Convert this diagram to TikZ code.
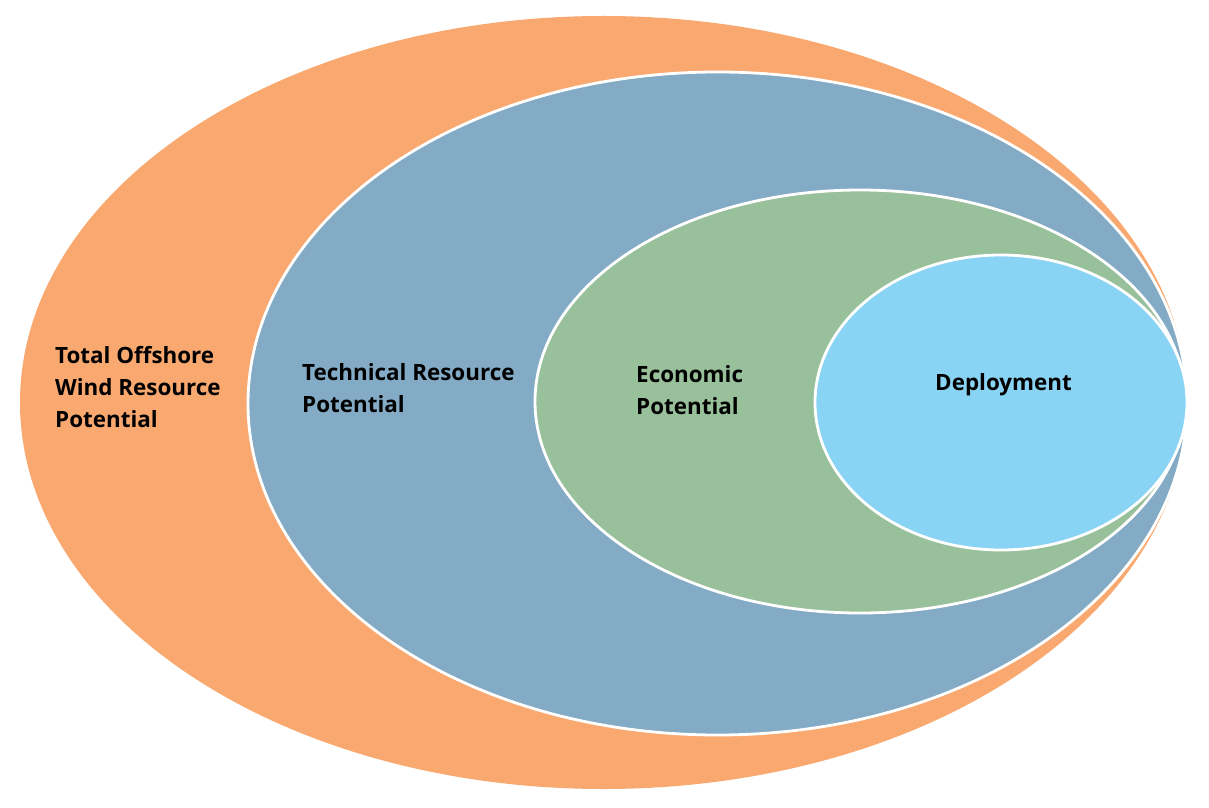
\documentclass[tikz,border=0pt]{standalone}
\usepackage{fontspec}
\setmainfont{Open Sans}
\usetikzlibrary{shapes.geometric}
\definecolor{cOrange}{HTML}{F9A870}
\definecolor{cBlue}{HTML}{84ABC5}
\definecolor{cGreen}{HTML}{98C09A}
\definecolor{cLight}{HTML}{89D4F4}
\tikzset{
  ring/.style={ellipse, draw=white, line width=2.8pt, inner sep=0pt},
  lbl/.style={anchor=west, align=left, inner sep=0pt, font=\fontsize{22.4}{32}\selectfont\bfseries, text=black}
}
\begin{document}
\begin{tikzpicture}[x=1pt,y=1pt]
\useasboundingbox (0,0) rectangle (1209,807);
\node[ring, fill=cOrange, draw=none, minimum width=1167pt, minimum height=773pt] (total) at (603.5,404.5) {};
\node[ring, fill=cBlue, minimum width=939pt, minimum height=663pt] (tech) at (717.5,403.5) {};
\node[ring, fill=cGreen, minimum width=650pt, minimum height=423pt] (econ) at (860,405.5) {};
\node[ring, fill=cLight, minimum width=372pt, minimum height=295pt] (depl) at (1001,404.5) {};
\node[lbl] (totaltxt) at (55,420) {Total Offshore\\Wind Resource\\Potential};
\node[lbl] (techtxt) at (302,419) {Technical Resource\\Potential};
\node[lbl] (econtxt) at (636,417) {Economic\\Potential};
\node[lbl] (depltxt) at (935,422) {Deployment};
\end{tikzpicture}
\end{document}
